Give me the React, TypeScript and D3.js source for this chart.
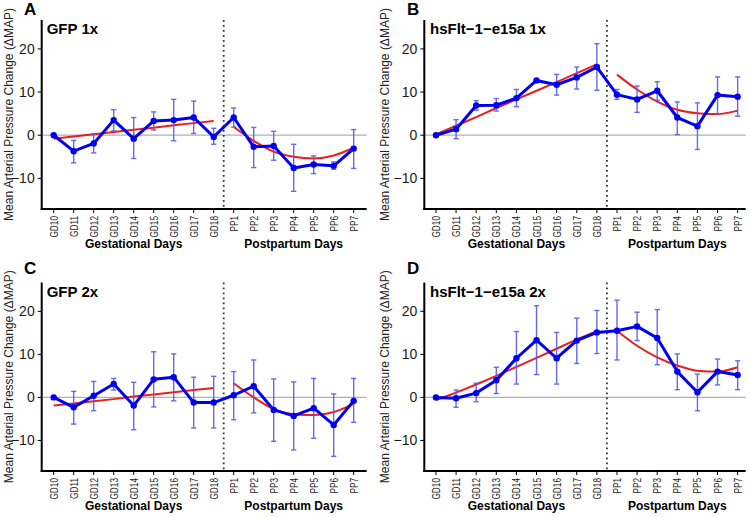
import React from "react";
import * as d3 from "d3";

const categories = ["GD10","GD11","GD12","GD13","GD14","GD15","GD16","GD17","GD18","PP1","PP2","PP3","PP4","PP5","PP6","PP7"];
const gestCats = categories.slice(0, 9);
const postCats = categories.slice(9);
const yTicks = [-10, 0, 10, 20];

// Panel A: GFP 1x
const aMean = [0, -3.7, -1.9, 3.5, -0.8, 3.3, 3.5, 4.1, -0.4, 4.1, -2.7, -2.5, -7.6, -6.8, -7.1, -3.1];
const aHigh = [0, -1.2, 0.3, 5.9, 4.1, 5.4, 8.3, 7.9, 1.6, 6.3, 1.8, 0.9, -2.1, -4.8, -6.2, 1.3];
const aLow = [0, -6.4, -4.1, 1.0, -5.4, 1.2, -1.3, 0.4, -2.1, 1.9, -7.5, -5.8, -13.0, -8.9, -7.9, -7.7];
const aFitGest = [-0.8, -0.3, 0.2, 0.75, 1.25, 1.75, 2.3, 2.8, 3.3];
const aFitPost = [1.9, -1.3, -3.8, -5.0, -5.4, -4.7, -2.9];

// Panel B: hsFlt-1-e15a 1x
const bMean = [0, 1.4, 6.9, 6.95, 8.6, 12.7, 11.7, 13.4, 15.8, 9.4, 8.3, 10.3, 4.1, 2.1, 9.3, 8.9];
const bHigh = [0, 3.6, 8.0, 8.5, 10.6, 12.9, 14.1, 15.8, 21.2, 10.6, 11.4, 12.4, 7.7, 7.5, 13.5, 13.5];
const bLow = [0, -0.8, 5.8, 5.6, 6.6, 12.5, 9.3, 10.7, 10.4, 8.3, 5.3, 8.1, 0.15, -3.3, 5.0, 4.4];
const bFitGest = [0.2, 2.2, 4.2, 6.3, 8.3, 10.3, 12.3, 14.4, 16.4];
const bFitPost = [14.05, 10.6, 7.8, 5.9, 5.1, 4.9, 5.7];

// Panel C: GFP 2x
const cMean = [0, -2.3, 0.4, 3.1, -1.9, 4.2, 4.7, -1.2, -1.2, 0.5, 2.6, -2.9, -4.3, -2.5, -6.4, -0.8];
const cHigh = [0, 1.4, 3.7, 4.4, 3.5, 10.6, 10.1, 4.7, 4.9, 6.0, 8.7, 4.3, 3.6, 4.4, 0.8, 4.4];
const cLow = [0, -6.2, -3.1, 1.7, -7.5, -2.2, -0.8, -7.1, -7.1, -5.2, -3.6, -10.2, -12.2, -9.5, -13.7, -5.8];
const cFitGest = [-1.9, -1.4, -0.9, -0.4, 0.2, 0.7, 1.2, 1.7, 2.2];
const cFitPost = [3.3, 0.0, -2.7, -3.9, -4.1, -3.4, -1.5];

// Panel D: hsFlt-1-e15a 2x
const dMean = [0, -0.2, 1.0, 4.0, 9.1, 13.3, 9.1, 13.2, 15.1, 15.5, 16.5, 13.8, 6.0, 1.2, 6.0, 5.2];
const dHigh = [0, 1.7, 3.3, 7.0, 15.3, 21.3, 15.1, 18.4, 20.2, 22.6, 19.8, 20.4, 10.1, 5.4, 8.9, 8.5];
const dLow = [0, -2.3, -1.0, 0.9, 3.1, 5.3, 3.1, 7.9, 10.2, 8.7, 13.2, 7.6, 1.8, -3.1, 2.9, 1.8];
const dFitGest = [-0.6, 1.1, 3.0, 5.0, 7.1, 9.2, 11.3, 13.5, 15.4];
const dFitPost = [15.5, 12.0, 9.3, 7.4, 6.2, 6.0, 7.0];

const titles = ["GFP 1x", "hsFlt\u22121\u2212e15a 1x", "GFP 2x", "hsFlt\u22121\u2212e15a 2x"];
const letters = ["A", "B", "C", "D"];
const yTitle = "Mean Arterial Pressure Change (\u0394MAP)";
const gestLabel = "Gestational Days";
const postLabel = "Postpartum Days";

type Layout = {
  x0: number; x1: number; dom0: number; dom1: number; top: number; bottom: number;
  letterX: number; letterY: number; titleX: number; titleY: number; yTitleX: number;
};

const layouts: Layout[] = [
  { x0: 41.7, x1: 366.7, dom0: -0.6, dom1: 15.65, top: 20, bottom: 209, letterX: 24, letterY: 15, titleX: 46.7, titleY: 33.5, yTitleX: 13 },
  { x0: 424.3, x1: 745.7, dom0: -0.58, dom1: 15.4, top: 20, bottom: 209, letterX: 407, letterY: 15, titleX: 430, titleY: 33.5, yTitleX: 389 },
  { x0: 41.7, x1: 366.7, dom0: -0.6, dom1: 15.65, top: 282.5, bottom: 471, letterX: 24, letterY: 274, titleX: 46.7, titleY: 296.5, yTitleX: 13 },
  { x0: 424.3, x1: 745.7, dom0: -0.58, dom1: 15.4, top: 282.5, bottom: 471, letterX: 407, letterY: 274, titleX: 430, titleY: 296.5, yTitleX: 389 },
];

const panels = [
  { mean: aMean, low: aLow, high: aHigh, fitG: aFitGest, fitP: aFitPost },
  { mean: bMean, low: bLow, high: bHigh, fitG: bFitGest, fitP: bFitPost },
  { mean: cMean, low: cLow, high: cHigh, fitG: cFitGest, fitP: cFitPost },
  { mean: dMean, low: dLow, high: dHigh, fitG: dFitGest, fitP: dFitPost },
];

const FONT = "'Liberation Sans', Arial, Helvetica, sans-serif";
const BLUE = "#0000f0";
const ERR = "#5a5ae8";
const RED = "#ee1c1c";

function Panel({ idx }: { idx: number }) {
  const L = layouts[idx];
  const P = panels[idx];
  const x = d3.scaleLinear().domain([L.dom0, L.dom1]).range([L.x0, L.x1]);
  const y = d3.scaleLinear().domain([-17.1, 26.7]).range([L.bottom, L.top]);
  const xi = (c: string) => x(categories.indexOf(c));

  const blueLine = d3.line<number>().x((_, i) => x(i)).y((d) => y(d))(P.mean) || "";
  const gestLine = d3.line<number>().x((_, i) => xi(gestCats[i])).y((d) => y(d))(P.fitG) || "";
  const postLine = d3.line<number>().x((_, i) => xi(postCats[i])).y((d) => y(d)).curve(d3.curveMonotoneX)(P.fitP) || "";
  const divX = x(8.5);
  const yMid = (L.top + L.bottom) / 2;
  const gestMid = (xi("GD10") + xi("GD18")) / 2;
  const postMid = (xi("PP1") + xi("PP7")) / 2;

  return (
    <g>
      <text x={L.letterX} y={L.letterY} fontFamily={FONT} fontWeight="bold" fontSize={17} fill="#000">{letters[idx]}</text>
      <text x={L.titleX} y={L.titleY} fontFamily={FONT} fontWeight="bold" fontSize={15} fill="#000">{titles[idx]}</text>
      <text transform={`translate(${L.yTitleX},${yMid}) rotate(-90)`} textAnchor="middle" fontFamily={FONT} fontSize={12} fill="#222">{yTitle}</text>
      <line x1={L.x0} x2={L.x1} y1={y(0)} y2={y(0)} stroke="#b0b0b0" strokeWidth={1.2} />
      <line x1={divX} x2={divX} y1={L.top} y2={L.bottom} stroke="#333" strokeWidth={1.8} strokeDasharray="1.8,3.2" />
      <path d={gestLine} fill="none" stroke={RED} strokeWidth={2} />
      <path d={postLine} fill="none" stroke={RED} strokeWidth={2} />
      {P.mean.map((m, i) => (
        P.high[i] - P.low[i] > 0.01 ? (
          <g key={"e" + i} stroke={ERR} strokeWidth={1.4} opacity={0.9}>
            <line x1={x(i)} x2={x(i)} y1={y(P.low[i])} y2={y(P.high[i])} />
            <line x1={x(i) - 2.6} x2={x(i) + 2.6} y1={y(P.low[i])} y2={y(P.low[i])} />
            <line x1={x(i) - 2.6} x2={x(i) + 2.6} y1={y(P.high[i])} y2={y(P.high[i])} />
          </g>
        ) : null
      ))}
      <path d={blueLine} fill="none" stroke={BLUE} strokeWidth={3} strokeLinejoin="round" />
      {P.mean.map((m, i) => (
        <circle key={"p" + i} cx={x(i)} cy={y(m)} r={3.2} fill={BLUE} />
      ))}
      <line x1={L.x0} x2={L.x0} y1={L.top} y2={L.bottom + 1} stroke="#000" strokeWidth={2} />
      <line x1={L.x0 - 1} x2={L.x1} y1={L.bottom} y2={L.bottom} stroke="#000" strokeWidth={2} />
      {yTicks.map((t) => (
        <g key={"yt" + t}>
          <line x1={L.x0 - 4} x2={L.x0} y1={y(t)} y2={y(t)} stroke="#000" strokeWidth={1} />
          <text x={L.x0 - 7} y={y(t)} dy="0.36em" textAnchor="end" fontFamily={FONT} fontSize={14} fill="#1a1a1a">
            {t < 0 ? "\u2212" + Math.abs(t) : String(t)}
          </text>
        </g>
      ))}
      {categories.map((c, i) => (
        <g key={"xt" + c}>
          <line x1={x(i)} x2={x(i)} y1={L.bottom} y2={L.bottom + 4} stroke="#000" strokeWidth={1} />
          <text transform={`translate(${x(i)},${L.bottom + 7}) rotate(-90) scale(0.75,1)`} dy="0.36em" textAnchor="end" fontFamily={FONT} fontSize={11} fill="#222">{c}</text>
        </g>
      ))}
      <text x={gestMid} y={L.bottom + 39} textAnchor="middle" fontFamily={FONT} fontWeight="bold" fontSize={12} fill="#000">{gestLabel}</text>
      <text x={postMid} y={L.bottom + 39} textAnchor="middle" fontFamily={FONT} fontWeight="bold" fontSize={12} fill="#000">{postLabel}</text>
    </g>
  );
}

export default function App() {
  return (
    <svg width={750} height={517} style={{ position: "absolute", left: 0, top: 0, background: "#fff" }}>
      <rect x={0} y={0} width={750} height={517} fill="#fff" />
      {[0, 1, 2, 3].map((i) => <Panel key={i} idx={i} />)}
    </svg>
  );
}
